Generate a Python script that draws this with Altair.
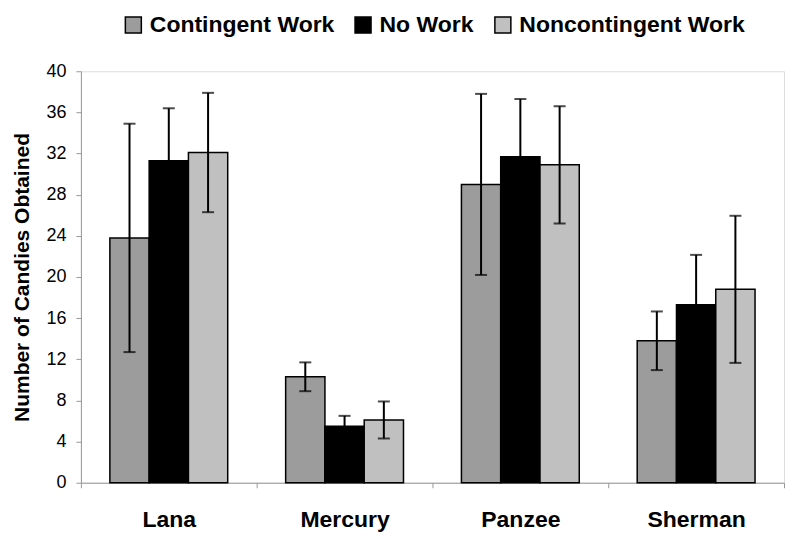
import altair as alt
import pandas as pd

subjects = ["Lana", "Mercury", "Panzee", "Sherman"]
conditions = ["Contingent Work", "No Work", "Noncontingent Work"]
colors = ["#9c9c9c", "#000000", "#c0c0c0"]

contingent_mean = [23.8, 10.3, 29.0, 13.8]
nowork_mean = [31.3, 5.5, 31.7, 17.3]
noncontingent_mean = [32.1, 6.1, 30.9, 18.8]

contingent_err = [11.1, 1.4, 8.8, 2.85]
nowork_err = [5.1, 1.0, 5.6, 4.85]
noncontingent_err = [5.8, 1.8, 5.7, 7.15]

y_ticks = [0, 4, 8, 12, 16, 20, 24, 28, 32, 36, 40]

rows = []
for cond, means, errs in zip(conditions,
                             [contingent_mean, nowork_mean, noncontingent_mean],
                             [contingent_err, nowork_err, noncontingent_err]):
    for s, m, e in zip(subjects, means, errs):
        rows.append({"subject": s, "condition": cond, "mean": m,
                     "lo": m - e, "hi": m + e})
df = pd.DataFrame(rows)

FONT = "Liberation Sans"

x_enc = alt.X("subject:N", sort=subjects,
              scale=alt.Scale(paddingInner=0, paddingOuter=0),
              axis=alt.Axis(title=None, labelAngle=0, tickBand="extent",
                            labelFont=FONT, labelFontSize=23, labelFontWeight="bold",
                            labelColor="black", labelPadding=21,
                            domainColor="#999999", tickColor="#999999", tickSize=5))
xoff_enc = alt.XOffset("condition:N", sort=conditions,
                       scale=alt.Scale(paddingInner=0, paddingOuter=0.7375))

base = alt.Chart(df)

bars = base.mark_bar(stroke="black", strokeWidth=1.5).encode(
    x=x_enc,
    xOffset=xoff_enc,
    y=alt.Y("mean:Q", scale=alt.Scale(domain=[0, 40]),
            axis=alt.Axis(values=y_ticks, grid=False, title="Number of Candies Obtained",
                          titleFont=FONT, titleFontSize=21, titleFontWeight="bold",
                          titleColor="black", titlePadding=13,
                          labelFont=FONT, labelFontSize=18, labelColor="black",
                          labelPadding=10,
                          domainColor="#999999", tickColor="#999999", tickSize=5)),
    color=alt.Color("condition:N", sort=conditions,
                    scale=alt.Scale(domain=conditions, range=colors),
                    legend=alt.Legend(title=None, orient="none", direction="horizontal",
                                      legendX=41, legendY=-58,
                                      symbolType="square", symbolSize=256,
                                      symbolStrokeColor="black", symbolStrokeWidth=1.5,
                                      labelFont=FONT, labelFontSize=23,
                                      labelFontWeight="bold", labelColor="black",
                                      labelLimit=400,
                                      labelOffset=5, columnPadding=17)),
)

rules = base.mark_rule(color="black", strokeWidth=2).encode(
    x=x_enc, xOffset=xoff_enc, y="lo:Q", y2="hi:Q")
caps_hi = base.mark_tick(color="black", thickness=2, size=12).encode(
    x=x_enc, xOffset=xoff_enc, y="hi:Q")
caps_lo = base.mark_tick(color="black", thickness=2, size=12).encode(
    x=x_enc, xOffset=xoff_enc, y="lo:Q")

chart = alt.layer(bars, rules, caps_hi, caps_lo).properties(
    width=704, height=412,
    autosize=alt.AutoSizeParams(type="none"),
    padding={"left": 73, "top": 63, "right": 8, "bottom": 50},
).configure_view(stroke=None).configure(background="white")

chart.save("out.html", embed_options={"renderer": "svg", "actions": False})
